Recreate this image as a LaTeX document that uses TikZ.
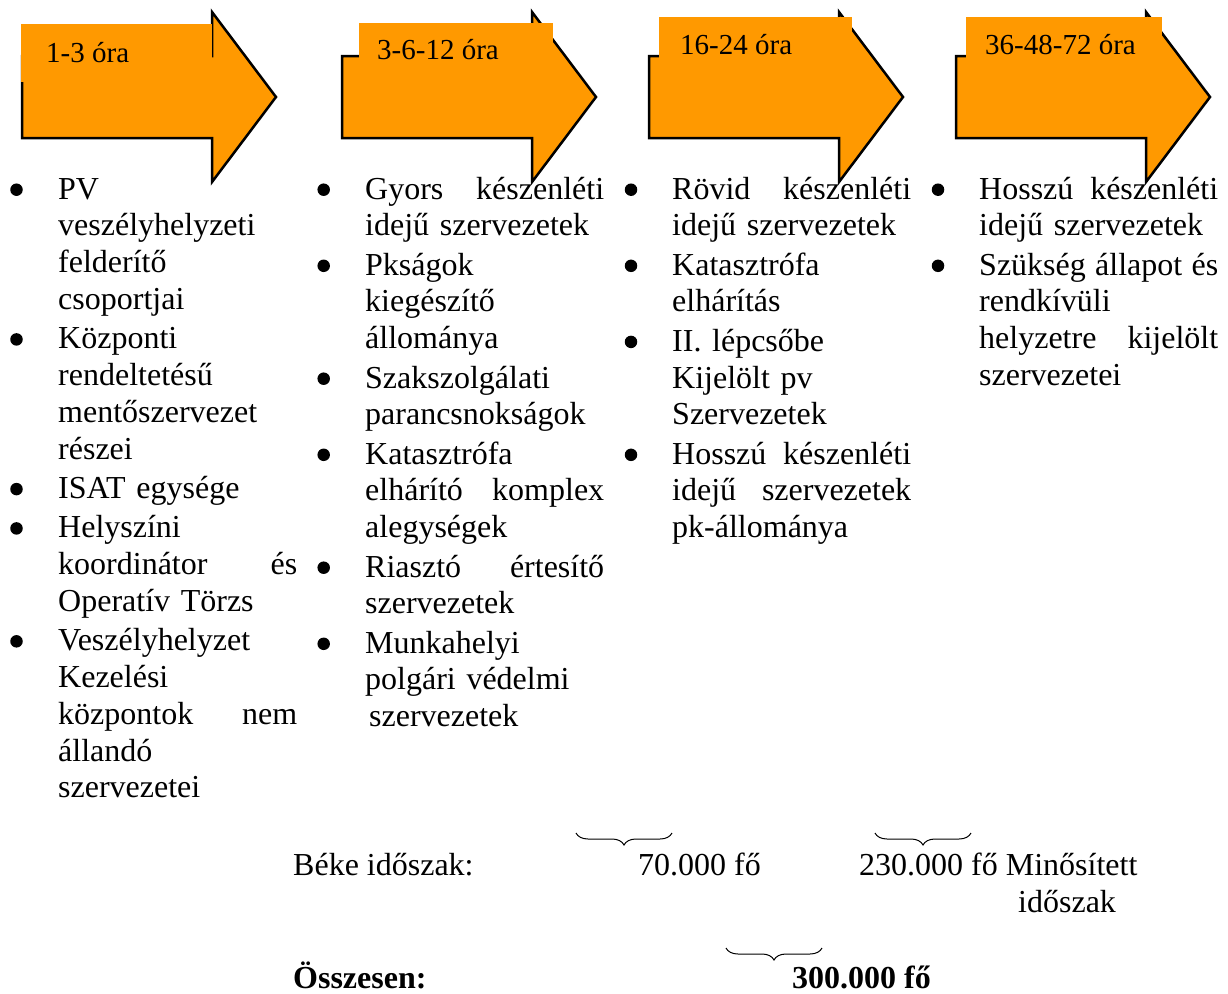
\documentclass[tikz,border=0pt]{standalone}
\usepackage{fontspec}
\setmainfont{Liberation Serif}
\usetikzlibrary{decorations.pathreplacing}
\definecolor{arroworange}{RGB}{255,153,0}
\newcommand\J[1]{\leavevmode\hbox to 239pt{\spaceskip=.25em plus 1fil\relax #1}}
\newcommand\bigarrow[1]{\filldraw[arrowbody] (#1,56) -- ++(190,0) -- ++(0,-44) -- ++(64,85) -- ++(-64,85) -- ++(0,-44) -- ++(-190,0) -- cycle;}
\begin{document}
\begin{tikzpicture}[x=1pt,y=-1pt,
  arrowbody/.style={fill=arroworange,draw=black,line width=2.5pt,line join=miter},
  labrect/.style={fill=arroworange},
  lab/.style={anchor=base west,inner sep=0pt,font=\fontsize{29pt}{33pt}\selectfont},
  body/.style={anchor=base west,inner sep=0pt,text width=239pt,font=\fontsize{32pt}{36.8pt}\selectfont},
  plain/.style={anchor=base west,inner sep=0pt,font=\fontsize{32pt}{36.8pt}\selectfont},
  boldtxt/.style={anchor=base west,inner sep=0pt,font=\fontsize{32pt}{36.8pt}\selectfont\bfseries},
  bul/.style={circle,fill=black,inner sep=0pt,minimum size=12.5pt},
  brc/.style={decorate,decoration={brace,mirror,amplitude=12pt},line width=1pt}]
\useasboundingbox (0,0) rectangle (1228,993);
% arrows
\bigarrow{22}
\bigarrow{342}
\bigarrow{649}
\bigarrow{956}
% label patches
\fill[labrect] (20.5,24) rectangle (212,82);
\fill[labrect] (359,23) rectangle (553,59);
\fill[labrect] (659,17) rectangle (852,59);
\fill[labrect] (966,17) rectangle (1162,59);
\node[lab] (l1) at (46,62) {1-3 óra};
\node[lab] (l2) at (377,59) {3-6-12 óra};
\node[lab] (l3) at (680,54) {16-24 óra};
\node[lab] (l4) at (985,54) {36-48-72 óra};
% column 1
\node[body] (c1a) at (58,199) {PV\\veszélyhelyzeti\\felderítő\\csoportjai};
\node[body] (c1b) at (58,348.7) {Központi\\rendeltetésű\\mentőszervezet\\részei};
\node[body] (c1c) at (58,498.4) {ISAT egysége};
\node[body] (c1d) at (58,537.7) {Helyszíni\\\J{koordinátor és}\\Operatív Törzs};
\node[body] (c1e) at (58,650.6) {Veszélyhelyzet\\Kezelési\\\J{központok nem}\\állandó\\szervezetei};
\foreach \y [count=\i] in {199,348.7,498.4,537.7,650.6}
  \node[bul] (b1\i) at (16.5,\y-9.3) {};
% column 2
\node[body] (c2a) at (365,199) {\J{Gyors készenléti}\\idejű szervezetek};
\node[body] (c2b) at (365,275.1) {Pkságok\\kiegészítő\\állománya};
\node[body] (c2c) at (365,388) {Szakszolgálati\\parancsnokságok};
\node[body] (c2d) at (365,464.1) {Katasztrófa\\\J{elhárító komplex}\\alegységek};
\node[body] (c2e) at (365,577) {\J{Riasztó értesítő}\\szervezetek};
\node[body] (c2f) at (365,653.1) {Munkahelyi\\polgári védelmi\\\hspace*{4pt}szervezetek};
\foreach \y [count=\i] in {199,275.1,388,464.1,577,653.1}
  \node[bul] (b2\i) at (323.7,\y-9.3) {};
% column 3
\node[body] (c3a) at (672,199) {\J{Rövid készenléti}\\idejű szervezetek};
\node[body] (c3b) at (672,275.1) {Katasztrófa\\elhárítás};
\node[body] (c3c) at (672,351.2) {II. lépcsőbe\\Kijelölt pv\\Szervezetek};
\node[body] (c3d) at (672,464.1) {\J{Hosszú készenléti}\\\J{idejű szervezetek}\\pk-állománya};
\foreach \y [count=\i] in {199,275.1,351.2,464.1}
  \node[bul] (b3\i) at (631,\y-9.3) {};
% column 4
\node[body] (c4a) at (979,199) {\J{Hosszú készenléti}\\idejű szervezetek};
\node[body] (c4b) at (979,275.1) {\J{Szükség állapot és}\\rendkívüli\\\J{helyzetre kijelölt}\\szervezetei};
\foreach \y [count=\i] in {199,275.1}
  \node[bul] (b4\i) at (938,\y-9.3) {};
% bottom
\node[plain] (beke) at (293,875) {Béke időszak:};
\node[plain] (n70) at (638,875) {70.000 fő};
\node[plain] (n230) at (859,875) {230.000 fő Minősített};
\node[plain] (mido) at (1018,912) {időszak};
\node[boldtxt] (ossz) at (293,988) {Összesen:};
\node[boldtxt] (n300) at (792,988) {300.000 fő};
\coordinate (br1a) at (576,833); \coordinate (br1b) at (672,833);
\coordinate (br2a) at (875,833); \coordinate (br2b) at (971,833);
\coordinate (br3a) at (726,948); \coordinate (br3b) at (822,948);
\draw[brc] (br1a) -- (br1b);
\draw[brc] (br2a) -- (br2b);
\draw[brc] (br3a) -- (br3b);
\end{tikzpicture}
\end{document}
